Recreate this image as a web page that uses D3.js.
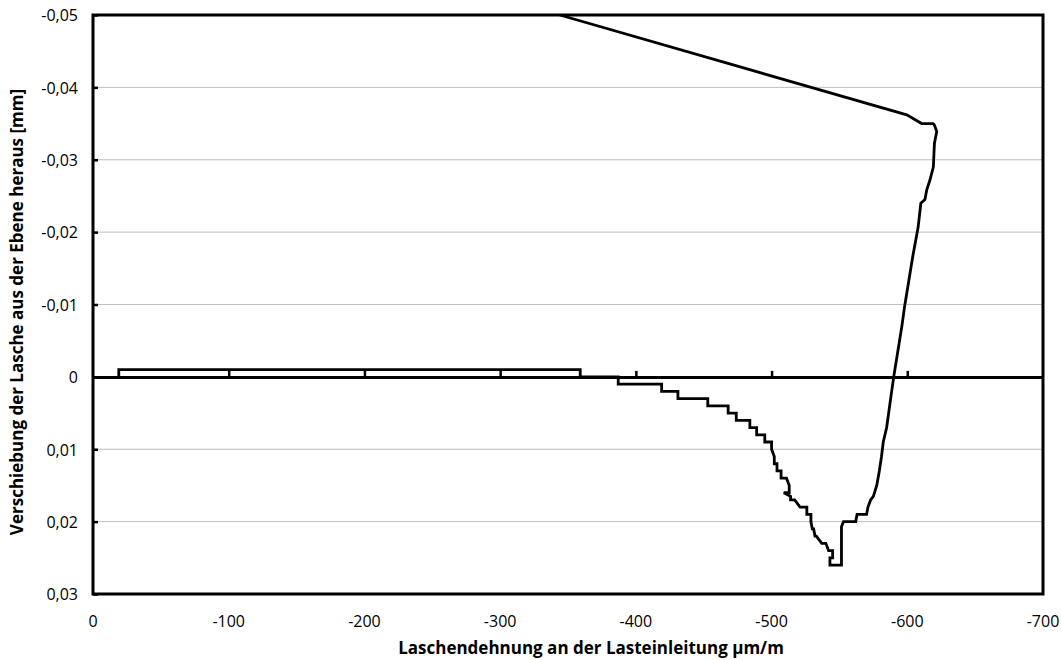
<!DOCTYPE html>
<html>
<head>
<meta charset="utf-8">
<script src="https://cdn.jsdelivr.net/npm/d3@7"></script>
<style>
  html, body { margin: 0; padding: 0; background: #fff; }
  svg { display: block; }
  .tick-label { font-family: "Open Sans", Lato, sans-serif; font-size: 16px; fill: #000; }
  .axis-title { font-family: "Open Sans", Lato, sans-serif; font-size: 17px; font-weight: bold; fill: #000; }
</style>
</head>
<body>
<script>
// Strain at the load introduction (µm/m) and out-of-plane displacement (mm)
const strain = [
  -19, -19, -359, -359, -387, -387, -419, -419, -431, -431,
  -453, -453, -468, -468, -474, -474, -484, -484, -489, -489,
  -495, -495, -500, -500, -502, -502, -504, -504, -507, -507,
  -511, -513, -513, -509, -514, -514, -517, -521, -526, -526,
  -529, -529, -530, -531, -532, -533, -537, -540, -542, -545,
  -545, -543, -543, -551.5, -551.5, -553, -562, -563, -570, -571,
  -573, -575, -577.5, -579.4, -581, -582.3, -584.8, -587.3, -590, -596,
  -598, -604, -608, -610, -613, -614.3, -616.7, -619.2, -620, -621.7,
  -620, -619, -610.6, -599.6, -344
];
const displacement = [
  0, -0.001, -0.001, 0, 0, 0.001, 0.001, 0.002, 0.002, 0.003,
  0.003, 0.004, 0.004, 0.005, 0.005, 0.006, 0.006, 0.007, 0.007, 0.008,
  0.008, 0.009, 0.009, 0.010, 0.011, 0.012, 0.012, 0.013, 0.013, 0.014,
  0.014, 0.015, 0.016, 0.016, 0.0165, 0.017, 0.017, 0.018, 0.018, 0.019,
  0.019, 0.020, 0.021, 0.021, 0.022, 0.022, 0.023, 0.023, 0.024, 0.024,
  0.025, 0.025, 0.026, 0.026, 0.0207, 0.020, 0.020, 0.019, 0.019, 0.018,
  0.017, 0.0165, 0.015, 0.013, 0.011, 0.009, 0.007, 0.0036, 0, -0.007,
  -0.0097, -0.0166, -0.0207, -0.024, -0.0245, -0.0258, -0.0272, -0.029, -0.0323, -0.0339,
  -0.0348, -0.035, -0.035, -0.0362, -0.05
];
const xTicks = [0, -100, -200, -300, -400, -500, -600, -700];
const yTicks = [-0.05, -0.04, -0.03, -0.02, -0.01, 0, 0.01, 0.02, 0.03];
const xTitle = "Laschendehnung an der Lasteinleitung µm/m";
const yTitle = "Verschiebung der Lasche aus der Ebene heraus [mm]";

const W = 1061, H = 660;
const plot = { left: 93, top: 15, right: 1043, bottom: 594 };

const locale = d3.formatLocale({ decimal: ",", thousands: ".", grouping: [3], currency: ["", ""], minus: "-" });
const fy = locale.format(".2f");
const fx = locale.format("d");

const x = d3.scaleLinear().domain([0, -700]).range([plot.left, plot.right]);
const y = d3.scaleLinear().domain([-0.05, 0.03]).range([plot.top, plot.bottom]);

const svg = d3.select("body").append("svg").attr("width", W).attr("height", H);

// horizontal gridlines
svg.append("g").selectAll("line")
  .data(yTicks.filter(d => d !== 0))
  .join("line")
  .attr("x1", plot.left).attr("x2", plot.right)
  .attr("y1", d => y(d)).attr("y2", d => y(d))
  .attr("stroke", "#bdbdbd").attr("stroke-width", 1);

// left axis with inward ticks
const yAxis = d3.axisLeft(y).tickValues(yTicks).tickSizeInner(-5).tickSizeOuter(0)
  .tickFormat(d => d === 0 ? "0" : fy(d));
const gy = svg.append("g").attr("transform", `translate(${plot.left},0)`).call(yAxis);
gy.select(".domain").remove();
gy.selectAll(".tick line").attr("stroke", "#000").attr("stroke-width", 2.5);
gy.selectAll(".tick text").attr("class", "tick-label").attr("x", -15).attr("dy", "0.36em").attr("font-family", null).attr("font-size", null);

// horizontal axis through zero, ticks pointing up
const xAxis = d3.axisTop(x).tickValues(xTicks.filter(d => d !== 0 && d !== -700)).tickSizeInner(6).tickSizeOuter(0).tickFormat("");
const gx = svg.append("g").attr("transform", `translate(0,${y(0)})`).call(xAxis);
gx.select(".domain").attr("stroke", "#000").attr("stroke-width", 3);
gx.selectAll(".tick line").attr("stroke", "#000").attr("stroke-width", 2.5);

// x tick labels below the plot
svg.append("g").selectAll("text")
  .data(xTicks)
  .join("text")
  .attr("class", "tick-label")
  .attr("x", d => x(d)).attr("y", 627)
  .attr("text-anchor", "middle")
  .text(d => fx(d));

// data curve
const pts = strain.map((s, i) => [s, displacement[i]]);
const line = d3.line().x(d => x(d[0])).y(d => y(d[1]));
svg.append("path")
  .datum(pts)
  .attr("d", line)
  .attr("fill", "none")
  .attr("stroke", "#000")
  .attr("stroke-width", 2.8)
  .attr("stroke-linejoin", "miter")
  .attr("stroke-miterlimit", 2);

// plot frame
svg.append("rect")
  .attr("x", plot.left).attr("y", plot.top)
  .attr("width", plot.right - plot.left).attr("height", plot.bottom - plot.top)
  .attr("fill", "none").attr("stroke", "#000").attr("stroke-width", 3);

// axis titles
svg.append("text").attr("class", "axis-title")
  .attr("x", 591).attr("y", 654)
  .attr("text-anchor", "middle").text(xTitle);
svg.append("text").attr("class", "axis-title")
  .attr("transform", `translate(23,312) rotate(-90)`)
  .attr("text-anchor", "middle").text(yTitle);
</script>
</body>
</html>
